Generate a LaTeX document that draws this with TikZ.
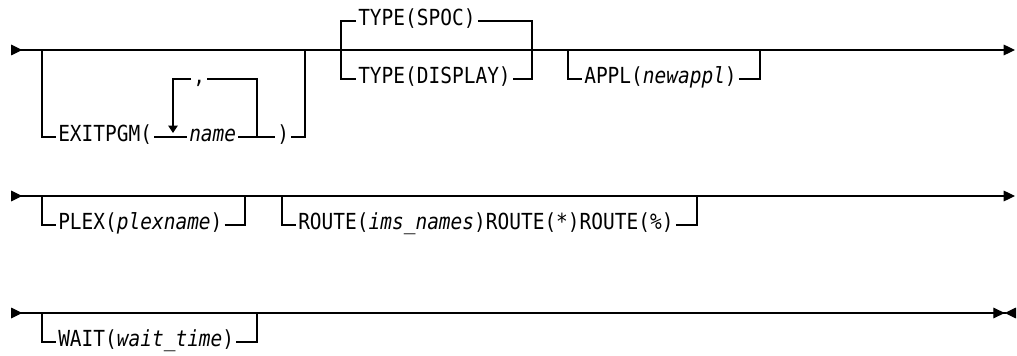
\documentclass[tikz,border=0pt]{standalone}
\usepackage{fontspec}
\setmonofont{DejaVu Sans Mono}[FakeStretch=0.88]
\usepackage{tikz}
\usetikzlibrary{
    arrows.meta
}
\tikzstyle{rail} = [
    line width=0.9pt
]
\tikzstyle{kw} = [
    anchor=west,
    inner xsep=1.5pt,
    inner ysep=0pt,
    text height=0.73em,
    text depth=0pt
]
\tikzstyle{enter} = [
    {Triangle[reversed,length=8.5pt,width=8pt]}-{Triangle[length=8.5pt,width=8pt]}
]
\tikzstyle{stop} = [
    {Triangle[reversed,length=8.5pt,width=8pt]}-{Triangle[length=8.5pt,width=8pt,sep=0pt]Triangle[reversed,length=8.5pt,width=8pt]}
]
\tikzstyle{back} = [
    -{Triangle[length=5.5pt,width=7pt]}
]

\begin{document}
\begin{tikzpicture}[x=0.75pt,y=-0.75pt,font=\ttfamily\fontsize{16.6}{19}\selectfont]
\useasboundingbox (0,0) rectangle (1017,356);

\coordinate (s1) at (11,50);
\coordinate (e1) at (1015,50);
\coordinate (x1) at (42,50);
\coordinate (x2) at (305,50);
\coordinate (l1) at (173,133);
\coordinate (l2) at (257,137);
\coordinate (t1) at (341,50);
\coordinate (t2) at (532,50);
\coordinate (a1) at (568,50);
\coordinate (a2) at (760,50);

\node[kw] (exit)  at (56,137)  {EXITPGM(};
\node[kw] (name)  at (187,137) {\textit{name}};
\node[kw] (close) at (275,137) {)};
\node[kw] (comma) at (191,79)  {,};
\node[kw] (spoc)  at (356,21)  {TYPE(SPOC)};
\node[kw] (disp)  at (356,79)  {TYPE(DISPLAY)};
\node[kw] (appl)  at (582,79)  {APPL(\textit{newappl})};

\draw[rail, enter] (s1) -- (e1);
\draw[rail] (x1) |- (exit.west);
\draw[rail] (exit.east) -- (name.west);
\draw[rail] (name.east) -- (close.west);
\draw[rail] (close.east) -| (x2);
\draw[rail, back] (comma.west) -| (l1);
\draw[rail] (comma.east) -| (l2);
\draw[rail] (spoc.west) -| (t1) |- (disp.west);
\draw[rail] (spoc.east) -| (t2) |- (disp.east);
\draw[rail] (a1) |- (appl.west);
\draw[rail] (appl.east) -| (a2);

\coordinate (s2) at (11,196);
\coordinate (e2) at (1015,196);
\coordinate (p1) at (42,196);
\coordinate (p2) at (245,196);
\coordinate (r1) at (282,196);
\coordinate (r2) at (697,196);

\node[kw] (plex)  at (56,225)  {PLEX(\textit{plexname})};
\node[kw] (route) at (296,225) {ROUTE(\textit{ims\_names})ROUTE(*)ROUTE(\%)};

\draw[rail, enter] (s2) -- (e2);
\draw[rail] (p1) |- (plex.west);
\draw[rail] (plex.east) -| (p2);
\draw[rail] (r1) |- (route.west);
\draw[rail] (route.east) -| (r2);

\coordinate (s3) at (11,313);
\coordinate (e3) at (1016,313);
\coordinate (w1) at (42,313);
\coordinate (w2) at (257,313);

\node[kw] (wait)  at (56,342)  {WAIT(\textit{wait\_time})};

\draw[rail, stop] (s3) -- (e3);
\draw[rail] (w1) |- (wait.west);
\draw[rail] (wait.east) -| (w2);
\end{tikzpicture}
\end{document}
